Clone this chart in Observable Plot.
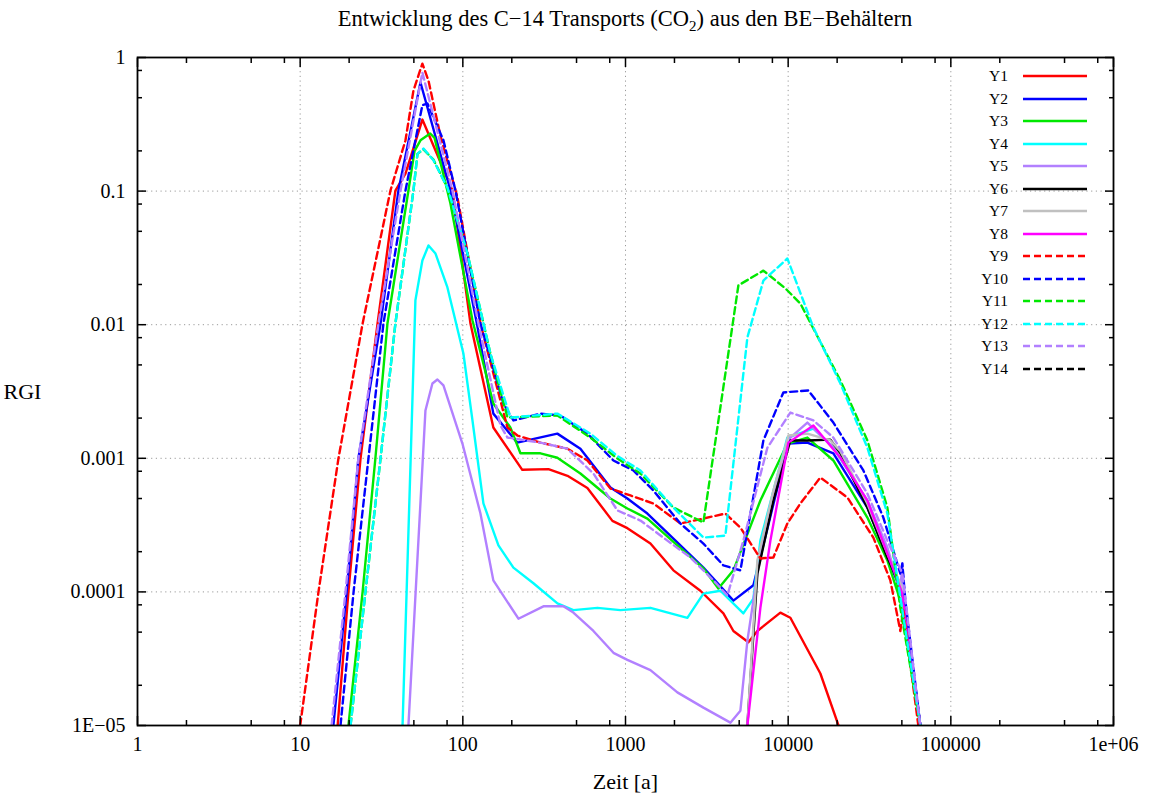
<!DOCTYPE html>
<html>
<head>
<meta charset="utf-8">
<script src="https://cdn.jsdelivr.net/npm/d3@7"></script>
<script src="https://cdn.jsdelivr.net/npm/@observablehq/plot@0.6"></script>
<style>
  html, body { margin: 0; padding: 0; background: #fff; }
  #wrap { position: relative; width: 1153px; height: 796px; font-family: "Liberation Serif", "DejaVu Serif", serif; color: #000; }
  #title { position: absolute; left: 137px; width: 976px; top: 0; height: 38px; line-height: 38px; text-align: center; font-size: 22.5px; }
  #title sub { font-size: 15px; vertical-align: -5px; line-height: 0; }
  #chart { position: absolute; left: 0; top: 38px; }
  #chart svg { display: block; }
  .leg-label { position: absolute; font-size: 15.5px; line-height: 20px; text-align: right; width: 60px; }
  .leg-line { position: absolute; }
</style>
</head>
<body>
<div id="wrap">
  <div id="title">Entwicklung des C−14 Transports (CO<sub>2</sub>) aus den BE−Behältern</div>
  <div id="chart"></div>
</div>
<script>
// ---- data (time in years, RGI value) ----
const y1 = [[17.0,1e-5],[19.8,1e-4],[23.5,1e-3],[29.9,0.0102],[38.5,0.101],[44.4,0.135],[56.4,0.343],[86.3,0.101],[111.4,0.0102],[154,0.0017],[232,0.00082],[336,0.00083],[440,0.00074],[583,0.0006],[831,0.00034],[1027,0.0003],[1423,0.00023],[1970,0.000145],[2886,0.000102],[3998,6.9e-5],[4605,5.1e-5],[5694,4.2e-5],[6467,5.1e-5],[8956,7.0e-5],[10315,6.4e-5],[15776,2.45e-5],[20400,1e-5]];
const y2 = [[16.0,1e-5],[19.3,1e-4],[22.8,1e-3],[31.2,0.0102],[40.2,0.101],[54.9,0.65],[84,0.101],[122,0.0102],[154,0.00216],[216,0.00131],[381,0.00153],[528,0.00118],[808,0.000605],[1027,0.0005],[1363,0.000386],[1970,0.00025],[3012,0.000152],[4605,8.6e-5],[6112,0.000112],[10030,0.00129],[13124,0.00131],[18960,0.00109],[30685,0.000428],[40717,0.000181],[50330,9.7e-5],[64930,1e-5]];
const y3 = [[19.8,1e-5],[24.2,1e-4],[29.0,1e-3],[34.4,0.0102],[46.3,0.101],[50.5,0.2],[54.9,0.24],[63,0.27],[67,0.25],[83.9,0.0808],[114.6,0.0108],[154,0.00257],[196,0.0017],[226,0.00109],[300,0.00109],[381,0.00101],[528,0.000769],[808,0.0005],[1027,0.000421],[1363,0.000354],[2084,0.000223],[3012,0.00015],[3724,0.000106],[4605,0.000145],[6747,0.000483],[9888,0.00129],[13124,0.00143],[18960,0.000963],[30685,0.00036],[40717,0.000172],[48925,8.6e-5],[64930,1e-5]];
const y4 = [[42.6,1e-5],[47.6,0.00085],[51.1,0.0152],[56.4,0.0302],[61.5,0.0392],[67.9,0.0341],[80.4,0.019],[100.8,0.00609],[114.6,0.00192],[133.8,0.00046],[165.5,0.000223],[204.6,0.000152],[271.6,0.000116],[381.5,8.2e-5],[478,7.3e-5],[672,7.6e-5],[930,7.3e-5],[1423,7.6e-5],[2401,6.4e-5],[3012,9.7e-5],[3831,0.000102],[5304,6.9e-5],[6112,8.9e-5],[6747,0.000242],[9888,0.00143],[14291,0.00167],[18960,0.0012],[30685,0.000483],[40717,0.0002],[50330,0.000102],[64930,1e-5]];
const y5 = [[46.3,1e-5],[58.9,0.00228],[65,0.00363],[69.8,0.00389],[76,0.00351],[99.4,0.00129],[128.3,0.000386],[154,0.000122],[219.7,6.3e-5],[313,7.8e-5],[415,7.8e-5],[478,7.0e-5],[635,5.1e-5],[843,3.5e-5],[1027,3.1e-5],[1423,2.6e-5],[2084,1.77e-5],[3012,1.36e-5],[4414,1.05e-5],[5085,1.29e-5],[5613,4.3e-5],[6467,0.000137],[8111,0.000545],[10315,0.00143],[13124,0.00185],[18960,0.0012],[30685,0.000483],[40717,0.000215],[48925,0.000102],[50330,0.000163],[52520,7.6e-5],[64930,1e-5]];
const y6 = [[5613,1e-5],[6467,0.000137],[8111,0.000483],[10315,0.00136],[13124,0.00136],[18172,0.00138],[20945,0.00109],[30685,0.000428],[40717,0.000181],[50330,0.000102],[64930,1e-5]];
const y7 = [[5613,1e-5],[6467,0.000172],[8111,0.000574],[10030,0.00148],[13124,0.00153],[18172,0.00136],[20945,0.00113],[30685,0.000459],[40717,0.000194],[50330,0.000106],[64930,1e-5]];
const y8 = [[5613,1e-5],[6747,7.6e-5],[7775,0.000242],[10030,0.00131],[14291,0.00176],[20945,0.00101],[30685,0.000483],[40717,0.000194],[50330,9.7e-5],[64930,1e-5]];
const y9 = [[10.0,1e-5],[12.96,1e-4],[17.2,1e-3],[24.2,0.0102],[35.9,0.101],[44.4,0.24],[49.7,0.566],[56.4,0.9],[61.5,0.67],[72.8,0.26],[92.6,0.09],[128.3,0.0102],[188,0.0017],[216.5,0.00148],[300,0.00131],[440,0.00118],[583,0.000963],[808,0.000594],[1072,0.000527],[1484,0.000459],[2175,0.000325],[3012,0.000354],[4111,0.000386],[5085,0.000303],[6747,0.000178],[8111,0.000181],[9888,0.000325],[11885,0.000459],[15776,0.000718],[23120,0.000509],[33400,0.000255],[42470,0.000122],[48925,5.1e-5],[51000,7.3e-5],[63125,1e-5]];
const y10 = [[17.7,1e-5],[21.3,1e-4],[26.3,1e-3],[32.5,0.0102],[44.4,0.101],[56.4,0.44],[60.6,0.452],[76,0.24],[90.1,0.101],[128.3,0.0102],[177.6,0.00257],[204.6,0.00192],[300,0.00216],[398,0.00209],[583,0.00153],[843,0.000963],[1118,0.000811],[1484,0.000574],[2175,0.000325],[3012,0.00023],[3998,0.000158],[5085,0.000145],[7041,0.00136],[9343,0.00311],[13311,0.00322],[18960,0.00185],[28990,0.000811],[38469,0.00036],[48925,0.000137],[50330,0.000163],[52520,8.6e-5],[64930,1e-5]];
const y11 = [[20.4,1e-5],[25.2,1e-4],[31.2,1e-3],[38.5,0.0102],[49.7,0.101],[52.6,0.19],[57.3,0.205],[66,0.172],[80.4,0.106],[106.7,0.0341],[147.7,0.00609],[188,0.00202],[381.5,0.00209],[608.5,0.00143],[892,0.000997],[1235,0.000769],[1970,0.000428],[3012,0.000331],[4943,0.0197],[7041,0.0254],[9612,0.0187],[11885,0.0144],[20945,0.00382],[30685,0.00136],[40717,0.000428],[48925,7.6e-5],[64930,1e-5]];
const y12 = [[20.4,1e-5],[25.2,1e-4],[31.2,1e-3],[38.5,0.0102],[49.7,0.101],[52.6,0.19],[57.3,0.208],[66,0.17],[80.4,0.106],[106.7,0.0341],[147.7,0.00609],[196,0.00202],[381.5,0.00216],[608.5,0.00153],[892,0.00104],[1235,0.000811],[1970,0.000428],[3012,0.000255],[4111,0.000264],[5613,0.00802],[7041,0.0214],[9888,0.0313],[14291,0.00953],[20945,0.00363],[30685,0.0012],[40717,0.000386],[64930,1e-5]];
const y13 = [[15.6,1e-5],[19.0,1e-4],[22.8,1e-3],[30.3,0.0102],[41.4,0.101],[56.4,0.772],[86.3,0.101],[124.7,0.0102],[170.3,0.00176],[188,0.00143],[300,0.00131],[439.5,0.00118],[635,0.000769],[892,0.000407],[1235,0.000342],[1809,0.000242],[2506,0.000181],[3470,0.000122],[4229,9.4e-5],[5304,0.000242],[7451,0.0012],[10315,0.0022],[14291,0.00192],[18960,0.00143],[30685,0.000545],[40717,0.000242],[50330,0.000137],[64930,1e-5]];
const y14 = [];

const seriesNames = ["Y1","Y2","Y3","Y4","Y5","Y6","Y7","Y8","Y9","Y10","Y11","Y12","Y13","Y14"];
const seriesData = [y1,y2,y3,y4,y5,y6,y7,y8,y9,y10,y11,y12,y13,y14];
const seriesColors = ["#ff0000","#0000ff","#00e800","#00ffff","#b280ff","#000000","#c0c0c0","#ff00ff",
                      "#ff0000","#0000ff","#00e800","#00ffff","#b280ff","#000000"];
const seriesDashed = [false,false,false,false,false,false,false,false,true,true,true,true,true,true];

const xMajor = [1,10,100,1000,10000,100000,1000000];
const xMajorLabels = ["1","10","100","1000","10000","100000","1e+06"];
const yMajor = [1e-5,1e-4,1e-3,1e-2,1e-1,1];
const yMajorLabels = ["1E−05","0.0001","0.001","0.01","0.1","1"];
const minorFactors = [2,5,8];

// ---- derived structures ----
const rows = seriesData.flatMap((s, i) => s.map(([t, v]) => ({name: seriesNames[i], t, v})));
const xMinor = xMajor.slice(0, -1).flatMap(d => minorFactors.map(f => d * f));
const yMinor = yMajor.slice(0, -1).flatMap(d => minorFactors.map(f => d * f));
const xInner = xMajor.slice(1, -1);
const yInner = yMajor.slice(1, -1);
const xLab = new Map(xMajor.map((d, i) => [d, xMajorLabels[i]]));
const yLab = new Map(yMajor.map((d, i) => [d, yMajorLabels[i]]));
const DASH = "7,4";
const SERIF = '"Liberation Serif", serif';

const lineMarks = seriesNames.map((n, i) => Plot.line(rows.filter(d => d.name === n), {
  x: "t", y: "v", stroke: seriesColors[i], strokeWidth: 2.4,
  strokeDasharray: seriesDashed[i] ? DASH : null, clip: true
}));

const blank = () => "";
const chart = Plot.plot({
  width: 1153,
  height: 758,
  marginTop: 19,
  marginBottom: 71,
  marginLeft: 137,
  marginRight: 40,
  style: 'font-family: "Liberation Serif", serif; font-size: 20px; color: #000; background: #fff;',
  x: {type: "log", domain: [1, 1e6]},
  y: {type: "log", domain: [1e-5, 1]},
  marks: [
    Plot.gridX(xInner, {stroke: "#9a9a9a", strokeOpacity: 1, strokeWidth: 1, strokeDasharray: "1.2,3.5"}),
    Plot.gridY(yInner, {stroke: "#9a9a9a", strokeOpacity: 1, strokeWidth: 1, strokeDasharray: "1.2,3.5"}),
    ...lineMarks,
    Plot.frame({stroke: "#000", strokeWidth: 1.8}),
    Plot.axisX(xMajor, {anchor: "bottom", tickSize: -9, tickPadding: 20, tickFormat: d => xLab.get(d), label: null, strokeWidth: 1.5, fontSize: 20}),
    Plot.axisX(xMinor, {anchor: "bottom", tickSize: -5, tickFormat: blank, label: null, strokeWidth: 1.5}),
    Plot.axisX(xMajor, {anchor: "top", tickSize: -9, tickFormat: blank, label: null, strokeWidth: 1.5}),
    Plot.axisX(xMinor, {anchor: "top", tickSize: -5, tickFormat: blank, label: null, strokeWidth: 1.5}),
    Plot.axisY(yMajor, {anchor: "left", tickSize: -9, tickPadding: 21, tickFormat: d => yLab.get(d), label: null, strokeWidth: 1.5, fontSize: 20}),
    Plot.axisY(yMinor, {anchor: "left", tickSize: -5, tickFormat: blank, label: null, strokeWidth: 1.5}),
    Plot.axisY(yMajor, {anchor: "right", tickSize: -9, tickFormat: blank, label: null, strokeWidth: 1.5}),
    Plot.axisY(yMinor, {anchor: "right", tickSize: -5, tickFormat: blank, label: null, strokeWidth: 1.5}),
    Plot.text(["Zeit [a]"], {frameAnchor: "bottom", dy: 63, fontSize: 22}),
    Plot.text(["RGI"], {frameAnchor: "left", textAnchor: "middle", dx: -115, fontSize: 22})
  ]
});
document.getElementById("chart").appendChild(chart);
// force the serif face on every text node of the chart
d3.select(chart).selectAll("g, text").style("font-family", SERIF);

// ---- legend (inside the plot, top right) ----
const wrap = d3.select("#wrap");
seriesNames.forEach((n, i) => {
  const cy = 76 + i * 22.5;
  wrap.append("div").attr("class", "leg-label")
    .style("left", (1008 - 60) + "px").style("top", (cy - 10) + "px").text(n);
  const s = wrap.append("svg").attr("class", "leg-line")
    .attr("width", 66).attr("height", 10)
    .style("left", "1022px").style("top", (cy - 5) + "px");
  s.append("line").attr("x1", 1).attr("x2", 65).attr("y1", 5).attr("y2", 5)
    .attr("stroke", seriesColors[i]).attr("stroke-width", 2.4)
    .attr("stroke-dasharray", seriesDashed[i] ? DASH : null);
});
</script>
</body>
</html>
